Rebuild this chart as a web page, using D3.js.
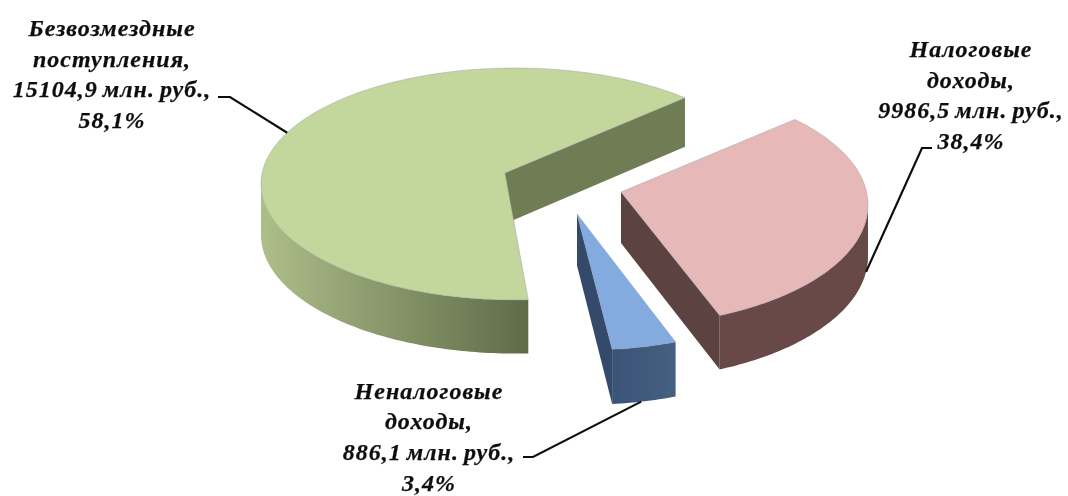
<!DOCTYPE html>
<html>
<head>
<meta charset="utf-8">
<script src="https://cdn.jsdelivr.net/npm/d3@7"></script>
<style type="text/css">
	html, body { margin: 0; padding: 0; background: #fff; overflow: hidden; }
	text { font-family: "Liberation Serif", serif; font-weight: bold; font-style: italic; font-size: 24px; fill: #111; stroke: #111; stroke-width: 0.25px; letter-spacing: 1px; word-spacing: -2px; text-anchor: middle; }
</style>
</head>
<body>
<script>
	// values, млн. руб.
	var categories = ["Налоговые доходы", "Неналоговые доходы", "Безвозмездные поступления"];
	var values = [9986.5, 886.1, 15104.9];
	var labelLines = [
		["Налоговые", "доходы,", "9986,5 млн. руб.,", "38,4%"],
		["Неналоговые", "доходы,", "886,1 млн. руб.,", "3,4%"],
		["Безвозмездные", "поступления,", "15104,9 млн. руб.,", "58,1%"]
	];

	var topColors = ["#e6b8b7", "#84abdf", "#c3d69b"];
	var sideColors = ["#5c423f", "#35496b", "#6f7b52"];
	var wallFrom = ["#694a47", "#3a5478", "#adbe8a"];
	var wallTo = ["#664845", "#455f80", "#5f6b48"];

	// where each exploded slice sits on the page
	var apex = [[621, 192], [577, 214], [505, 173]];
	var hub = [[618, 205], [586, 229], [515, 184]];
	var radiusX = [250, 250, 254];
	var radiusY = [121, 121, 116];

	// leaders: slice fraction where it touches, on top edge or bottom edge, then elbow and end
	var leaderAt = [0.47, 0.55, 0.53];
	var leaderLow = [true, true, false];
	var leaderElbow = [[922, 148], [533, 457], [230, 97]];
	var leaderEnd = [[932, 148], [523, 457], [218, 97]];
	var labelX = [971, 429, 112];
	var labelY = [57, 398.5, 36];

	var width = 1068, height = 496, lineStep = 30.7;
	var rad = Math.PI / 180;

	var canvas = d3.select("body").append("svg")
		.attr("width", width)
		.attr("height", height);

	var defs = canvas.append("defs");

	// the reference is a soft scan
	defs.append("filter").attr("id", "soft")
		.append("feGaussianBlur").attr("stdDeviation", 0.55);

	var chart = canvas.append("g").attr("filter", "url(#soft)");

	var slices = d3.pie().sort(null).value(function (d) { return d; })(values);

	// the 3D view stretches the near side of the pie, so pie angles are bent to the angles on screen
	var gap = 1.5 * rad;
	var view = d3.scaleLinear()
		.domain([0, slices[0].endAngle, slices[1].endAngle, 2 * Math.PI])
		.range([43.5 * rad, 157.5 * rad, 175.5 * rad, 403.5 * rad]);

	var depth = d3.scaleLinear().domain([100, 320]).range([49, 54]);

	function rim(i, a) {
		return [hub[i][0] + radiusX[i] * Math.sin(a), hub[i][1] - radiusY[i] * Math.cos(a)];
	}
	function drop(p) {
		return [p[0], p[1] + depth(p[1])];
	}
	function sweep(i, a0, a1) {
		var n = Math.max(2, Math.ceil((a1 - a0) / (1 * rad)));
		return d3.range(n + 1).map(function (k) { return rim(i, a0 + (a1 - a0) * k / n); });
	}

	var line = d3.line();

	slices.forEach(function (d, i) {
		var a0 = view(d.startAngle) + gap;
		var a1 = view(d.endAngle) - gap;
		var g = chart.append("g").attr("class", "slice");

		// side walls, only the ones turned to the viewer
		[a0, a1].forEach(function (a, k) {
			var turned = k == 0 ? Math.sin(a) < 0 : Math.sin(a) > 0;
			if (!turned) return;
			var p = rim(i, a);
			g.append("path")
				.attr("d", line([apex[i], p, drop(p), drop(apex[i])]) + "Z")
				.attr("fill", sideColors[i]);
		});

		// outer wall, near half of the ellipse only
		var w0 = Math.max(a0, 90 * rad), w1 = Math.min(a1, 270 * rad);
		if (w1 > w0) {
			var edge = sweep(i, w0, w1);
			var grad = defs.append("linearGradient")
				.attr("id", "wall" + i)
				.attr("gradientUnits", "userSpaceOnUse")
				.attr("x1", d3.min(edge, function (p) { return p[0]; }))
				.attr("x2", d3.max(edge, function (p) { return p[0]; }))
				.attr("y1", 0).attr("y2", 0);
			grad.append("stop").attr("offset", 0).attr("stop-color", wallFrom[i]);
			grad.append("stop").attr("offset", 1).attr("stop-color", wallTo[i]);
			g.append("path")
				.attr("d", line(edge.concat(edge.map(drop).reverse())) + "Z")
				.attr("fill", "url(#wall" + i + ")");
		}

		// top face
		g.append("path")
			.attr("d", line([apex[i]].concat(sweep(i, a0, a1))) + "Z")
			.attr("fill", topColors[i])
			.attr("stroke", "#8f94a6")
			.attr("stroke-opacity", 0.5)
			.attr("stroke-width", 0.8);
	});

	// leaders and labels
	slices.forEach(function (d, i) {
		var a0 = view(d.startAngle) + gap;
		var a1 = view(d.endAngle) - gap;
		var at = rim(i, a0 + (a1 - a0) * leaderAt[i]);
		if (leaderLow[i]) at = drop(at);
		chart.append("path")
			.attr("d", line([at, leaderElbow[i], leaderEnd[i]]))
			.attr("fill", "none")
			.attr("stroke", "#111")
			.attr("stroke-width", 2.2);

		var t = chart.append("text").attr("aria-label", categories[i]);
		labelLines[i].forEach(function (s, k) {
			t.append("tspan")
				.attr("x", labelX[i])
				.attr("y", labelY[i] + k * lineStep)
				.text(s);
		});
	});
</script>
</body>
</html>
